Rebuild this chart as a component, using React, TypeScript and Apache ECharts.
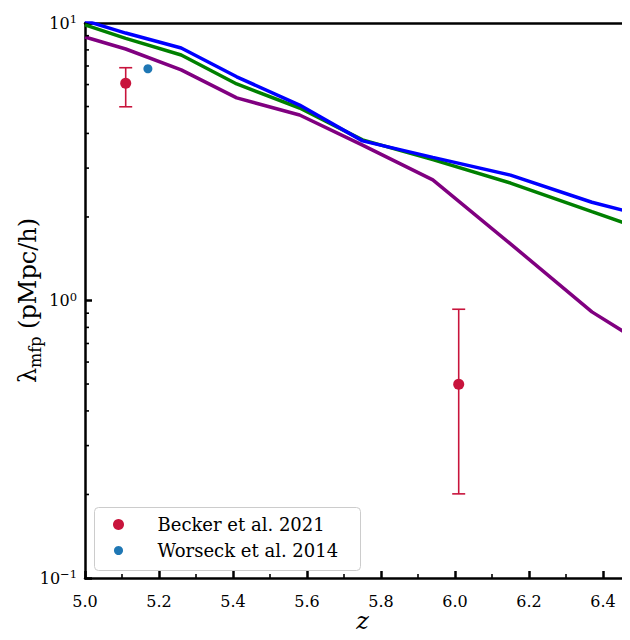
import React, { useEffect, useRef } from "react";
import * as echarts from "echarts";

// Simulation snapshots: redshift and mean free path (pMpc/h)
const zSim = [5.0, 5.11, 5.26, 5.41, 5.58, 5.75, 5.94, 6.15, 6.37, 6.5];
const mfpBlue = [10.2, 9.2, 8.13, 6.4, 5.06, 3.76, 3.28, 2.83, 2.26, 2.04];
const mfpGreen = [9.84, 8.8, 7.67, 6.03, 4.94, 3.79, 3.22, 2.65, 2.09, 1.82];
const mfpPurple = [8.9, 8.06, 6.78, 5.37, 4.66, 3.63, 2.72, 1.6, 0.91, 0.71];

// Observations
const beckerZ = [5.11, 6.01];
const beckerMfp = [6.07, 0.499];
const beckerLow = [4.99, 0.201];
const beckerHigh = [6.9, 0.93];
const worseckZ = [5.17];
const worseckMfp = [6.84];

// Axis ranges
const zMin = 5.0;
const zMax = 6.5;
const yMin = 0.1;
const yMax = 10;
const minorMantissas = [2, 3, 4, 5, 6, 7, 8, 9];
const decades = [0.1, 1];

const FONT = "'DejaVu Serif', serif";
const CRIMSON = "#c8143c";
const WBLUE = "#1f77b4";

const pairs = (xs: number[], ys: number[]) => xs.map((x, i) => [x, ys[i]]);

export default function App() {
  const ref = useRef<HTMLDivElement>(null);

  useEffect(() => {
    if (!ref.current) return;
    const chart = echarts.init(ref.current, null, { renderer: "svg" });

    const minorY: number[][] = [];
    decades.forEach((d) => minorMantissas.forEach((m) => minorY.push([zMin, m * d])));

    const errData = beckerZ.map((z, i) => [z, beckerLow[i], beckerHigh[i]]);

    const lineSeries = (data: number[], color: string) => ({
      type: "line",
      data: pairs(zSim, data),
      showSymbol: false,
      symbol: "none",
      clip: true,
      lineStyle: { color, width: 3.5 },
      z: 2,
    });

    const option: any = {
      animation: false,
      backgroundColor: "#ffffff",
      textStyle: { fontFamily: FONT },
      grid: { left: 85, width: 555, top: 23, bottom: 62, containLabel: false, outerBoundsMode: "none" },
      xAxis: [
        {
          type: "value",
          min: zMin,
          max: zMax,
          interval: 0.2,
          name: "z",
          nameLocation: "middle",
          nameGap: 31,
          nameMoveOverlap: false,
          nameTextStyle: { fontFamily: FONT, fontStyle: "italic", fontSize: 24, color: "#000" },
          axisLine: { show: true, lineStyle: { color: "#000", width: 2.5 } },
          axisTick: { show: true, inside: true, length: 7, lineStyle: { color: "#000", width: 2.5 } },
          minorTick: { show: true, splitNumber: 2, length: 4, lineStyle: { color: "#000", width: 1.6 } },
          axisLabel: {
            margin: 15,
            showMaxLabel: false,
            fontFamily: FONT,
            fontSize: 16,
            color: "#000",
            formatter: (v: number) => v.toFixed(1),
          },
          splitLine: { show: false },
        },
        {
          type: "value",
          position: "top",
          min: zMin,
          max: zMax,
          axisLine: { show: true, lineStyle: { color: "#000", width: 2.5 } },
          axisTick: { show: false },
          axisLabel: { show: false },
          splitLine: { show: false },
        },
      ],
      yAxis: {
        type: "log",
        logBase: 10,
        min: yMin,
        max: yMax,
        name: "{l|λ}{s|mfp}{l| (pMpc/h)}",
        nameLocation: "middle",
        nameGap: 42,
        nameMoveOverlap: false,
        nameRotate: 90,
        nameTextStyle: {
          rich: {
            l: { fontFamily: FONT, fontSize: 24, color: "#000", lineHeight: 30 },
            s: { fontFamily: FONT, fontSize: 16, color: "#000", verticalAlign: "bottom", lineHeight: 30, padding: [9, 0, 0, 0] },
          },
        },
        axisLine: { show: true, lineStyle: { color: "#000", width: 2.5 } },
        axisTick: { show: true, inside: true, length: 7, lineStyle: { color: "#000", width: 2.5 } },
        axisLabel: {
          margin: 8,
          formatter: (v: number) => {
            const e = Math.round(Math.log10(v));
            const es = e < 0 ? "\u2212" + Math.abs(e) : String(e);
            return `{b|10}{p|${es}}`;
          },
          rich: {
            b: { fontFamily: FONT, fontSize: 16, color: "#000", lineHeight: 20 },
            p: { fontFamily: FONT, fontSize: 11.5, color: "#000", verticalAlign: "top", lineHeight: 20, padding: [0, 0, 6, 0] },
          },
        },
        splitLine: { show: false },
      },
      series: [
        // minor log ticks on the left spine
        {
          type: "custom",
          data: minorY,
          silent: true,
          z: 5,
          renderItem: (params: any, api: any) => {
            const p = api.coord([api.value(0), api.value(1)]);
            return {
              type: "line",
              shape: { x1: p[0], y1: p[1], x2: p[0] + 4, y2: p[1] },
              style: { stroke: "#000", lineWidth: 1.6 },
            };
          },
        },
        lineSeries(mfpPurple, "#800080"),
        lineSeries(mfpGreen, "#008000"),
        lineSeries(mfpBlue, "#0000ff"),
        // Becker et al. 2021 error bars
        {
          type: "custom",
          data: errData,
          silent: true,
          z: 3,
          renderItem: (params: any, api: any) => {
            const lo = api.coord([api.value(0), api.value(1)]);
            const hi = api.coord([api.value(0), api.value(2)]);
            const cap = 6.5;
            const st = { stroke: CRIMSON, lineWidth: 1.6 };
            return {
              type: "group",
              children: [
                { type: "line", shape: { x1: lo[0], y1: lo[1], x2: hi[0], y2: hi[1] }, style: st },
                { type: "line", shape: { x1: lo[0] - cap, y1: lo[1], x2: lo[0] + cap, y2: lo[1] }, style: st },
                { type: "line", shape: { x1: hi[0] - cap, y1: hi[1], x2: hi[0] + cap, y2: hi[1] }, style: st },
              ],
            };
          },
        },
        {
          type: "scatter",
          name: "Becker et al. 2021",
          data: pairs(beckerZ, beckerMfp),
          symbol: "circle",
          symbolSize: 11,
          itemStyle: { color: CRIMSON, opacity: 1 },
          z: 4,
        },
        {
          type: "scatter",
          name: "Worseck et al. 2014",
          data: pairs(worseckZ, worseckMfp),
          symbol: "circle",
          symbolSize: 9,
          itemStyle: { color: WBLUE, opacity: 1 },
          z: 4,
        },
      ],
      graphic: [
        {
          type: "group",
          left: 94,
          top: 507,
          children: [
            {
              type: "rect",
              shape: { x: 0, y: 0, width: 266, height: 63, r: 4 },
              style: { fill: "rgba(255,255,255,0.85)", stroke: "#cccccc", lineWidth: 1 },
            },
            { type: "circle", shape: { cx: 24, cy: 17, r: 5.5 }, style: { fill: CRIMSON } },
            {
              type: "text",
              x: 63,
              y: 17,
              style: { text: "Becker et al. 2021", fontFamily: FONT, fontSize: 18, fill: "#000", verticalAlign: "middle" },
            },
            { type: "circle", shape: { cx: 24, cy: 43, r: 4.5 }, style: { fill: WBLUE } },
            {
              type: "text",
              x: 63,
              y: 43,
              style: { text: "Worseck et al. 2014", fontFamily: FONT, fontSize: 18, fill: "#000", verticalAlign: "middle" },
            },
          ],
        },
      ],
    };

    chart.setOption(option);
    return () => chart.dispose();
  }, []);

  return <div ref={ref} style={{ width: 630, height: 640, margin: -8, overflow: "hidden" }} />;
}
